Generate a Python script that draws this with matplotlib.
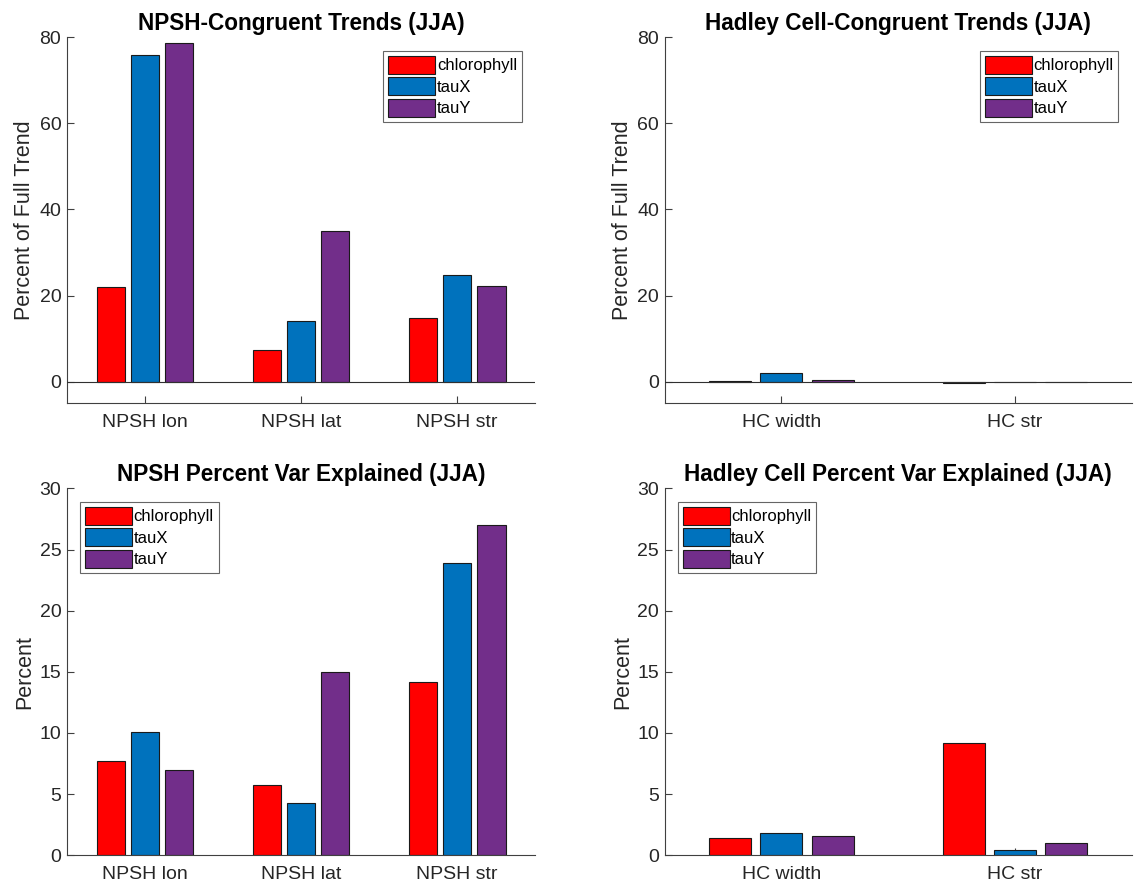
import numpy as np
import matplotlib
matplotlib.use('Agg')
import matplotlib.pyplot as plt

plt.rcParams['font.family'] = ['Liberation Sans', 'DejaVu Sans']

series = ['chlorophyll', 'tauX', 'tauY']
colors = ['#FF0000', '#0072BD', '#722E8A']

npsh_labels = ['NPSH lon', 'NPSH lat', 'NPSH str']
hc_labels = ['HC width', 'HC str']

# congruent trends (percent of full trend)
npsh_trend_chl = [22.1, 7.4, 14.7]
npsh_trend_taux = [75.8, 14.2, 24.7]
npsh_trend_tauy = [78.6, 34.9, 22.3]
hc_trend_chl = [0.05, -0.35]
hc_trend_taux = [1.9, 0.02]
hc_trend_tauy = [0.45, 0.02]

# percent variance explained
npsh_var_chl = [7.7, 5.7, 14.2]
npsh_var_taux = [10.1, 4.25, 23.9]
npsh_var_tauy = [7.0, 15.0, 27.0]
hc_var_chl = [1.4, 9.15]
hc_var_taux = [1.85, 0.45]
hc_var_tauy = [1.6, 1.0]

fig = plt.figure(figsize=(11.34, 8.88), dpi=100)

def bar_panel(rect, labels, vals, title, ylabel, ylim, yticks, legend_loc, zero_line):
    ax = fig.add_axes(rect)
    x = np.arange(1, len(labels) + 1)
    offsets = [-0.22, 0.0, 0.22]
    for v, off, c, name in zip(vals, offsets, colors, series):
        ax.bar(x + off, v, width=0.18, color=c, edgecolor='#1a1a1a', linewidth=0.8, label=name, zorder=2)
    if zero_line:
        ax.axhline(0, color='#303030', linewidth=0.8, zorder=3)
    ax.set_xlim(0.5, len(labels) + 0.5)
    ax.set_ylim(*ylim)
    ax.set_yticks(yticks)
    ax.set_xticks(x)
    ax.set_xticklabels(labels)
    ax.set_title(title, fontsize=16.3, fontweight='bold', color='black', pad=5)
    ax.set_ylabel(ylabel, fontsize=15.5, color='#262626', labelpad=3)
    for s in ['top', 'right']:
        ax.spines[s].set_visible(False)
    for s in ['left', 'bottom']:
        ax.spines[s].set_color('#404040')
        ax.spines[s].set_linewidth(0.8)
    ax.tick_params(direction='in', length=5, width=0.8, labelsize=14, colors='#404040', labelcolor='#262626')
    ax.tick_params(axis='x', pad=8)
    ax.tick_params(axis='y', pad=4)
    leg = ax.legend(loc=legend_loc, fontsize=12, frameon=True, fancybox=False, edgecolor='#404040',
                    handlelength=2.8, handleheight=1.3, handletextpad=0.1, labelspacing=0.2,
                    borderpad=0.3, borderaxespad=0.8)
    leg.get_frame().set_linewidth(0.8)
    return ax

bar_panel([0.059, 0.546, 0.413, 0.412], npsh_labels,
          [npsh_trend_chl, npsh_trend_taux, npsh_trend_tauy],
          'NPSH-Congruent Trends (JJA)', 'Percent of Full Trend',
          (-5, 80), [0, 20, 40, 60, 80], 'upper right', True)
bar_panel([0.586, 0.546, 0.412, 0.412], hc_labels,
          [hc_trend_chl, hc_trend_taux, hc_trend_tauy],
          'Hadley Cell-Congruent Trends (JJA)', 'Percent of Full Trend',
          (-5, 80), [0, 20, 40, 60, 80], 'upper right', True)
bar_panel([0.059, 0.037, 0.413, 0.413], npsh_labels,
          [npsh_var_chl, npsh_var_taux, npsh_var_tauy],
          'NPSH Percent Var Explained (JJA)', 'Percent',
          (0, 30), [0, 5, 10, 15, 20, 25, 30], 'upper left', False)
bar_panel([0.586, 0.037, 0.412, 0.413], hc_labels,
          [hc_var_chl, hc_var_taux, hc_var_tauy],
          'Hadley Cell Percent Var Explained (JJA)', 'Percent',
          (0, 30), [0, 5, 10, 15, 20, 25, 30], 'upper left', False)

fig.savefig('out.png', dpi=100)
